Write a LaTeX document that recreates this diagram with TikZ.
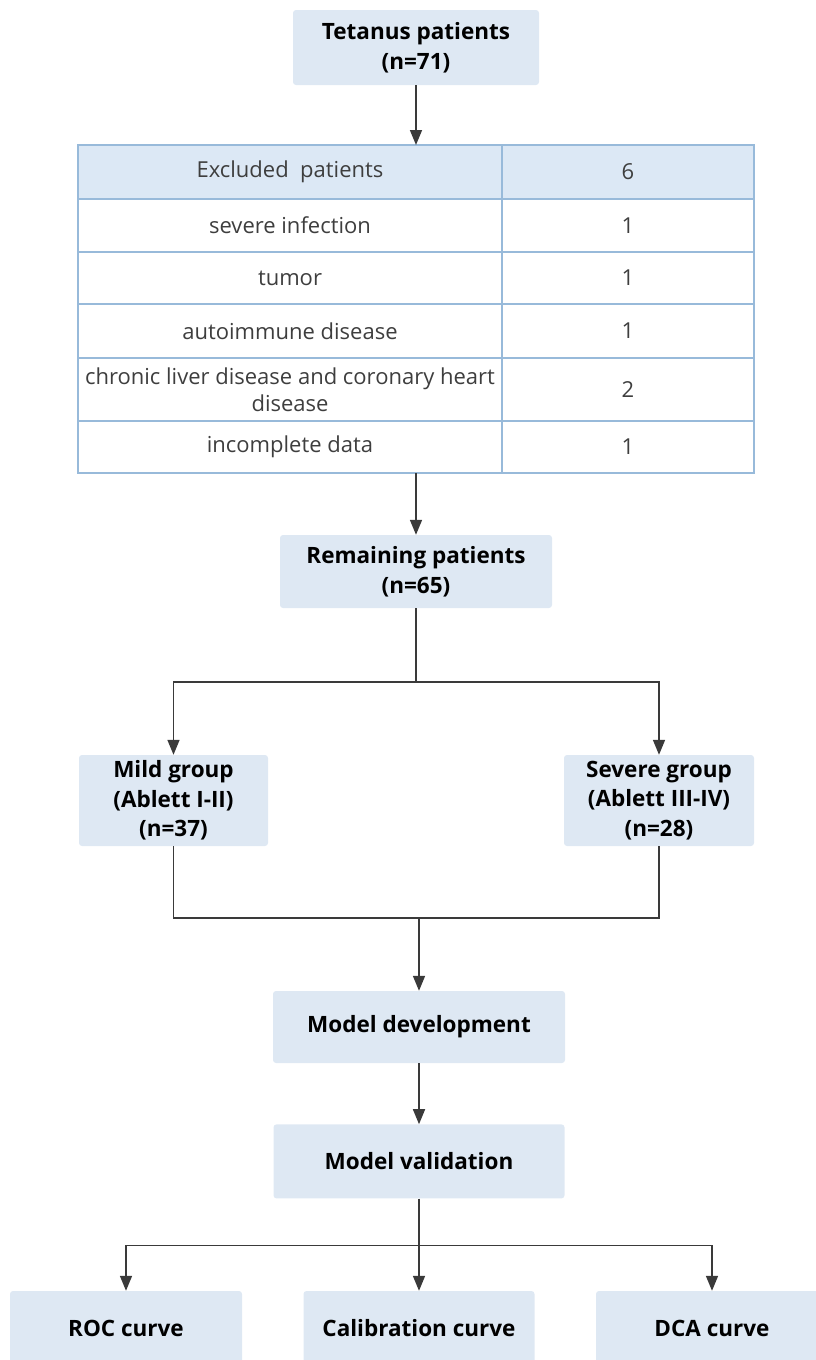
\documentclass[tikz,border=0pt]{standalone}
\usepackage{fontspec}
\setmainfont{Open Sans}
\usepackage{tikz}
\usetikzlibrary{arrows.meta,positioning}
\usepackage{xcolor}
\definecolor{stboxfill}{RGB}{222,232,243}
\definecolor{sttabline}{RGB}{152,186,218}
\definecolor{sttabhead}{RGB}{220,232,245}
\definecolor{stline}{RGB}{58,58,58}
\definecolor{sttext}{RGB}{62,62,62}
\tikzstyle{arrow} = [line width=1.6pt,->,>={Triangle[length=15pt,width=12pt]},color=stline]
\tikzstyle{link} = [line width=1.6pt,color=stline]
\tikzstyle{stage} = [rectangle, rounded corners=3pt, fill=stboxfill, align=center, text=black, inner sep=0pt, font=\fontsize{22.5}{29.5}\selectfont\bfseries]
\tikzstyle{cell} = [rectangle, draw=sttabline, line width=1.8pt, outer sep=0pt, inner sep=0pt, align=center, text=sttext, font=\fontsize{22}{27}\selectfont]

\begin{document}
\begin{tikzpicture}[x=1pt, y=1pt]
\useasboundingbox (0,0) rectangle (816,-1360);
% Enrolment
\node (tetanus) [stage, minimum width=246pt, minimum height=75pt] at (416,-47.5) {Tetanus patients\\(n=71)};

% Exclusion table
\node (ex0) [cell, fill=sttabhead, anchor=north west, minimum width=424pt, minimum height=54pt] at (78,-145) {Excluded\ \ patients};
\node (ex1) [cell, below=0pt of ex0, minimum width=424pt, minimum height=53pt] {severe infection};
\node (ex2) [cell, below=0pt of ex1, minimum width=424pt, minimum height=52pt] {tumor};
\node (ex3) [cell, below=0pt of ex2, minimum width=424pt, minimum height=54pt] {autoimmune disease};
\node (ex4) [cell, below=0pt of ex3, minimum width=424pt, minimum height=63pt] {chronic liver disease and coronary heart\\disease};
\node (ex5) [cell, below=0pt of ex4, minimum width=424pt, minimum height=52pt] {incomplete data};
\node (n0) [cell, fill=sttabhead, right=0pt of ex0, minimum width=252pt, minimum height=54pt] {6};
\node (n1) [cell, right=0pt of ex1, minimum width=252pt, minimum height=53pt] {1};
\node (n2) [cell, right=0pt of ex2, minimum width=252pt, minimum height=52pt] {1};
\node (n3) [cell, right=0pt of ex3, minimum width=252pt, minimum height=54pt] {1};
\node (n4) [cell, right=0pt of ex4, minimum width=252pt, minimum height=63pt] {2};
\node (n5) [cell, right=0pt of ex5, minimum width=252pt, minimum height=52pt] {1};

% Groups
\node (remain) [stage, minimum width=272pt, minimum height=73pt] at (416,-571.5) {Remaining patients\\(n=65)};
\node (mild) [stage, minimum width=189pt, minimum height=91pt] at (173.5,-800.5) {Mild group\\(Ablett I-II)\\(n=37)};
\node (severe) [stage, minimum width=190pt, minimum height=91pt] at (659,-800.5) {Severe group\\(Ablett III-IV)\\(n=28)};

% Model
\node (develop) [stage, minimum width=292pt, minimum height=72pt] at (419,-1027) {Model development};
\node (validate) [stage, below=61pt of develop, minimum width=291pt, minimum height=74pt] {Model validation};
\node (roc) [stage, minimum width=232pt, minimum height=74pt] at (126,-1328) {ROC curve};
\node (calib) [stage, minimum width=231pt, minimum height=74pt] at (419,-1328) {Calibration curve};
\node (dca) [stage, minimum width=232pt, minimum height=74pt] at (712,-1328) {DCA curve};

\coordinate[below=74pt of remain] (split);
\coordinate[above=73pt of develop] (join);
\coordinate[below=47pt of validate] (fork);

\draw[arrow] (tetanus) -- (tetanus |- ex0.north);
\draw[arrow] (remain |- ex5.south) -- (remain);
\draw[link] (remain) -- (split);
\draw[arrow] (split) -| (mild);
\draw[arrow] (split) -| (severe);
\draw[link] (mild) |- (join) -| (severe);
\draw[arrow] (join) -- (develop);
\draw[arrow] (develop) -- (validate);
\draw[link] (validate) -- (fork);
\draw[arrow] (fork) -| (roc);
\draw[arrow] (fork) -- (calib);
\draw[arrow] (fork) -| (dca);
\end{tikzpicture}
\end{document}
